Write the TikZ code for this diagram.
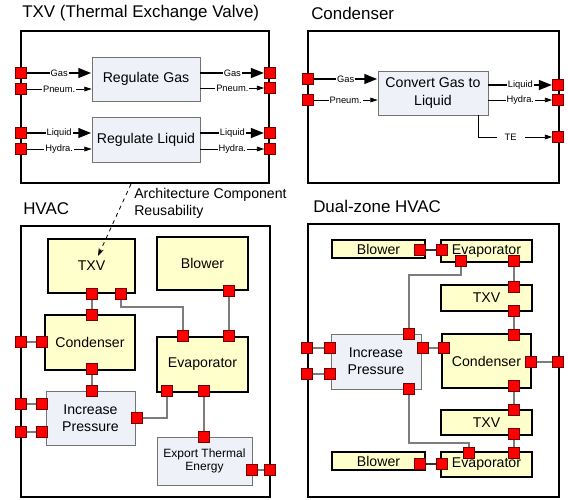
\documentclass[tikz,border=0pt]{standalone}
\usepackage{fontspec}
\setmainfont{Liberation Sans}
\usepackage{xcolor}
\usepackage{tikz}
\usetikzlibrary{arrows.meta,positioning,calc}
\definecolor{compfill}{RGB}{255,255,204}
\definecolor{funcfill}{RGB}{238,242,248}
\definecolor{linkgray}{RGB}{125,125,125}
\newcommand{\boxfont}{\fontsize{10.6}{12.8}\selectfont}

\begin{document}
\begin{tikzpicture}[x=0.75pt,y=-0.75pt,
 sz/.style 2 args={minimum width=#1*0.75pt,minimum height=#2*0.75pt},
 panel/.style={draw,fill=white,line width=2.2pt,inner sep=0pt},
 subpanel/.style={panel,line width=1.5pt},
 title/.style={anchor=west,inner sep=0pt,font=\fontsize{12.7}{15}\selectfont},
 func/.style={draw=black!55,line width=0.6pt,fill=funcfill,align=center,inner sep=1pt,font=\boxfont},
 comp/.style={draw,line width=1.8pt,fill=compfill,align=center,inner sep=1pt,font=\boxfont},
 port/.style={draw=red!45!black,line width=0.4pt,fill=red,minimum size=8.2pt,inner sep=0pt},
 flow/.style={line width=0.6pt,-{Triangle[length=5.5pt,width=3.5pt]}},
 bigflow/.style={line width=2.2pt,-{Triangle[length=10pt,width=7pt]}},
 lbl/.style={fill=white,inner sep=0.8pt,font=\fontsize{7}{8}\selectfont},
 link/.style={draw=linkgray,line width=0.8pt}]
\useasboundingbox (0,0) rectangle (568,500);
% TXV
\node[panel,sz={248}{152}] (ptxv) at (145,107) {};
\node[title] (ttxv) at (22,13) {TXV (Thermal Exchange Valve)};
\node[func,sz={108}{44}] (rgas) at (146,79) {Regulate Gas};
\node[func,sz={108}{45}] (rliq) at (146,139.5) {Regulate Liquid};
\node[port] (gi) at (21,73) {};
\node[port] (pi) at (21,89) {};
\node[port] (li) at (21,133) {};
\node[port] (hi) at (21,149) {};
\node[port] (go) at (270,73) {};
\node[port] (po) at (270,88) {};
\node[port] (lo) at (270,133) {};
\node[port] (ho) at (270,149) {};
\draw[bigflow] (gi) -- node[lbl]{Gas} (gi -| rgas.west);
\draw[flow] (pi) -- node[lbl]{Pneum.} (pi -| rgas.west);
\draw[bigflow] (li) -- node[lbl]{Liquid} (li -| rliq.west);
\draw[flow] (hi) -- node[lbl]{Hydra.} (hi -| rliq.west);
\draw[bigflow] (rgas.east |- go) -- node[lbl]{Gas} (go);
\draw[flow] (rgas.east |- po) -- node[lbl]{Pneum.} (po);
\draw[bigflow] (rliq.east |- lo) -- node[lbl]{Liquid} (lo);
\draw[flow] (rliq.east |- ho) -- node[lbl]{Hydra.} (ho);
% Condenser
\node[panel,sz={251}{152}] (pcon) at (433.5,107) {};
\node[title] (tcon) at (311,13) {Condenser};
\node[func,sz={110}{44}] (conv) at (433,93) {Convert Gas to\\Liquid};
\node[port] (cgi) at (308,79) {};
\node[port] (cpi) at (308,100) {};
\node[port] (clo) at (558,85) {};
\node[port] (cho) at (558,100) {};
\node[port] (cto) at (558,137) {};
\draw[bigflow] (cgi) -- node[lbl]{Gas} (cgi -| conv.west);
\draw[flow] (cpi) -- node[lbl]{Pneum.} (cpi -| conv.west);
\draw[bigflow] (conv.east |- clo) -- node[lbl]{Liquid} (clo);
\draw[flow] (conv.east |- cho) -- node[lbl]{Hydra.} (cho);
\draw[flow] ($(conv.south)+(45,0)$) |- node[lbl,pos=0.72,inner xsep=6pt]{TE} (cto);
% HVAC
\node[subpanel,sz={249}{271}] (phv) at (145.5,361.5) {};
\node[title] (thv) at (23,209) {HVAC};
\node[anchor=west,align=left,inner sep=0pt,font=\boxfont] (reuse) at (134,203) {Architecture Component\\Reusability};
\node[comp,sz={87}{54}] (htxv) at (91.5,266) {TXV};
\node[comp,sz={91}{53}] (hblow) at (202.5,263.5) {Blower};
\node[comp,sz={90}{55}] (hcond) at (90,342.5) {Condenser};
\node[comp,sz={91}{55}] (hevap) at (202.5,364.5) {Evaporator};
\node[func,sz={89}{54}] (hinc) at (90.5,418) {Increase\\Pressure};
\node[func,sz={95}{48},font=\fontsize{9}{10}\selectfont] (hexp) at (204.5,461) {Export Thermal\\Energy};
\coordinate (reusefrom) at (131,184);
\coordinate (reuseto) at (98,256);
\draw[dashed,line width=0.6pt,-{Stealth[length=6pt,width=4pt]}] (reusefrom) -- (reuseto);
\node[port] (h1) at (92,294) {};
\node[port] (h2) at (121,294) {};
\node[port] (h3) at (92,315) {};
\node[port] (h4) at (42,342) {};
\node[port] (h5) at (21,342) {};
\node[port] (h6) at (92,369) {};
\node[port] (h7) at (92,391) {};
\node[port] (h8) at (42,404) {};
\node[port] (h9) at (21,404) {};
\node[port] (h10) at (42,432) {};
\node[port] (h11) at (21,432) {};
\node[port] (h12) at (137,418) {};
\node[port] (h13) at (183,336) {};
\node[port] (h14) at (229,336) {};
\node[port] (h15) at (229,291) {};
\node[port] (h16) at (167,391) {};
\node[port] (h17) at (204,391) {};
\node[port] (h18) at (204,437) {};
\node[port] (h19) at (252,470) {};
\node[port] (h20) at (270,470) {};
\draw[link] (h1) -- (h3);
\draw[link] (h2) -- ++(0,13) -| (h13);
\draw[link] (h15) -- (h14);
\draw[link] (h4) -- (h5);
\draw[link] (h6) -- (h7);
\draw[link] (h8) -- (h9);
\draw[link] (h10) -- (h11);
\draw[link] (h12) -| (h16);
\draw[link] (h17) -- (h18);
\draw[link] (h19) -- (h20);
% Dual-zone HVAC
\node[subpanel,sz={251}{273}] (pdz) at (433.5,360.5) {};
\node[title] (tdz) at (313,206) {Dual-zone HVAC};
\node[comp,sz={93}{18}] (dblowa) at (378.5,249) {Blower};
\node[comp,sz={91}{22}] (devapa) at (486.5,251) {Evaporator};
\node[comp,sz={91}{26}] (dtxva) at (486.5,298) {TXV};
\node[comp,sz={89}{54}] (dcond) at (486.5,361) {Condenser};
\node[comp,sz={91}{25}] (dtxvb) at (486.5,422.5) {TXV};
\node[comp,sz={93}{18}] (dblowb) at (378.5,461) {Blower};
\node[comp,sz={91}{25}] (devapb) at (486.5,464.5) {Evaporator};
\node[func,sz={90}{55}] (dinc) at (376,361.5) {Increase\\Pressure};
\node[port] (d1) at (420,250) {};
\node[port] (d2) at (442,250) {};
\node[port] (d3) at (461,261) {};
\node[port] (d4) at (514,261) {};
\node[port] (d5) at (514,287) {};
\node[port] (d6) at (514,311) {};
\node[port] (d7) at (514,335) {};
\node[port] (d8) at (531,362) {};
\node[port] (d9) at (558,362) {};
\node[port] (d10) at (514,386) {};
\node[port] (d11) at (514,410) {};
\node[port] (d12) at (514,434) {};
\node[port] (d13) at (514,453) {};
\node[port] (d14) at (469,453) {};
\node[port] (d15) at (420,464) {};
\node[port] (d16) at (442,464) {};
\node[port] (d17) at (409,334) {};
\node[port] (d18) at (423,348) {};
\node[port] (d19) at (444,348) {};
\node[port] (d20) at (330,348) {};
\node[port] (d21) at (307,348) {};
\node[port] (d22) at (330,374) {};
\node[port] (d23) at (307,374) {};
\node[port] (d24) at (409,389) {};
\draw[link,draw=black!80] (d1) -- (d2);
\draw[link,draw=black!80] (d15) -- (d16);
\draw[link] (d17) -- ++(0,-59) -| (d3);
\draw[link] (d4) -- (d5);
\draw[link] (d6) -- (d7);
\draw[link] (d8) -- (d9);
\draw[link] (d10) -- (d11);
\draw[link] (d12) -- (d13);
\draw[link] (d18) -- (d19);
\draw[link] (d20) -- (d21);
\draw[link] (d22) -- (d23);
\draw[link] (d24) -- ++(0,54) -| (d14);
\end{tikzpicture}
\end{document}
